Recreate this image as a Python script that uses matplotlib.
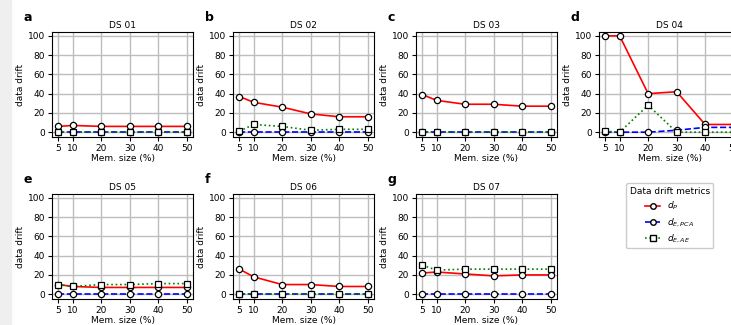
import matplotlib
matplotlib.use("Agg")
import matplotlib.pyplot as plt
from matplotlib.patches import Rectangle
from matplotlib.lines import Line2D

# data
mem_sizes = [5, 10, 20, 30, 40, 50]
datasets = ['DS 01', 'DS 02', 'DS 03', 'DS 04', 'DS 05', 'DS 06', 'DS 07']
letters = ['a', 'b', 'c', 'd', 'e', 'f', 'g']

d_p = [
    [6, 7, 6, 6, 6, 6],
    [37, 31, 26, 19, 16, 16],
    [39, 33, 29, 29, 27, 27],
    [100, 100, 40, 42, 8, 8],
    [10, 8, 7, 7, 7, 7],
    [26, 18, 10, 10, 8, 8],
    [22, 23, 21, 19, 20, 20],
]
d_pca = [
    [0, 0, 0, 0, 0, 0],
    [0, 0, 0, 0, 0, 0],
    [0, 0, 0, 0, 0, 0],
    [0, 0, 0, 2, 5, 5],
    [0, 0, 0, 0, 0, 0],
    [0, 0, 0, 0, 0, 0],
    [0, 0, 0, 0, 0, 0],
]
d_ae = [
    [0, 0, 0, 0, 0, 0],
    [1, 8, 6, 2, 3, 3],
    [0, 0, 0, 0, 0, 0],
    [1, 0, 28, 0, 0, 0],
    [10, 8, 10, 10, 11, 11],
    [0, 0, 0, 0, 0, 0],
    [30, 25, 26, 26, 26, 26],
]

W, H = 731, 325
fig = plt.figure(figsize=(W / 100, H / 100), dpi=100)
fig.patches.append(Rectangle((0, 0), 11 / W, 1, transform=fig.transFigure,
                             color='#efefef', zorder=-10))

lefts = [52, 233, 416, 599]
tops = [32, 194]
ax_w, ax_h = 141, 105

for i in range(7):
    row, col = divmod(i, 4)
    l = lefts[col] / W
    b = 1 - (tops[row] + ax_h) / H
    ax = fig.add_axes([l, b, ax_w / W, ax_h / H])
    ax.plot(mem_sizes, d_p[i], color='red', lw=1.2, marker='o', ms=4.5,
            mfc='white', mec='black', mew=0.9)
    ax.plot(mem_sizes, d_pca[i], color='blue', lw=1.2, ls='--', marker='o',
            ms=4.5, mfc='white', mec='black', mew=0.9)
    ax.plot(mem_sizes, d_ae[i], color='green', lw=1.2, ls=':', marker='s',
            ms=4.5, mfc='white', mec='black', mew=0.9)
    ax.set_ylim(-5, 104)
    ax.set_xticks(mem_sizes)
    ax.set_yticks([0, 20, 40, 60, 80, 100])
    ax.tick_params(labelsize=6.5, length=3, pad=2)
    ax.grid(True, color='#bdbdbd', lw=1.0)
    ax.set_axisbelow(True)
    ax.set_title(datasets[i], fontsize=6.5, pad=3)
    ax.set_xlabel('Mem. size (%)', fontsize=6.5, labelpad=1)
    ax.set_ylabel('data drift', fontsize=6.5, labelpad=2)
    ax.text(-0.2, 1.14, letters[i], transform=ax.transAxes, fontsize=9,
            fontweight='bold', va='center', ha='left')

handles = [
    Line2D([], [], color='red', lw=1.2, marker='o', ms=4, mfc='white', mec='black'),
    Line2D([], [], color='blue', lw=1.2, ls='--', marker='o', ms=4, mfc='white', mec='black'),
    Line2D([], [], color='green', lw=1.2, ls=':', marker='s', ms=4, mfc='white', mec='black'),
]
fig.legend(handles, ['$d_P$', '$d_{E,PCA}$', '$d_{E,AE}$'],
           title='Data drift metrics', title_fontsize=6.5, fontsize=6.5,
           loc='upper left', bbox_to_anchor=(626 / W, 1 - 183 / H),
           handlelength=1.6, handletextpad=0.8, framealpha=1,
           borderpad=0.4, labelspacing=0.45, borderaxespad=0)

fig.savefig('out.png', dpi=100)
